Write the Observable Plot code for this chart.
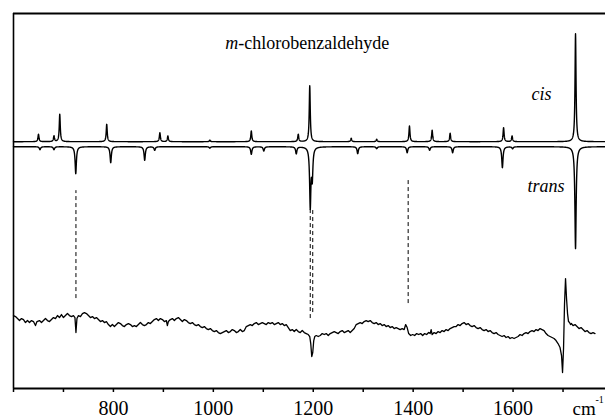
<!DOCTYPE html>
<html><head><meta charset="utf-8">
<script src="https://cdn.jsdelivr.net/npm/d3@7"></script>
<script src="https://cdn.jsdelivr.net/npm/@observablehq/plot@0.6"></script>
<style>html,body{margin:0;padding:0;background:#fff;overflow:hidden;}</style>
</head><body><div id="chart"></div>
<script>
// computed cis spectrum: band positions (cm-1) and intensities
const cisPos = [650, 681, 692.6, 786.6, 893, 909, 993, 1076, 1170, 1193, 1276, 1327, 1392.6, 1438, 1474, 1581, 1598, 1725];
const cisInt = [7.4, 5.7, 27.4, 17.4, 9, 5.7, 1.5, 10.7, 7.4, 56, 3.4, 2.4, 15.7, 11.4, 8.4, 14, 5.7, 108];
// computed trans spectrum (drawn downward)
const transPos = [653, 681, 724.6, 794.6, 862.6, 882.6, 993, 1076, 1101, 1166, 1194, 1198, 1289, 1327, 1388, 1433, 1479, 1578.6, 1599, 1725];
const transInt = [3, 3, 27, 16, 13.6, 3.6, 1.5, 7.6, 4.3, 7, 59, 30, 7, 2, 6, 3.6, 6, 21, 2, 102];
// experimental difference spectrum
const expWavenumber = [600,604,608,612,616,620,624,628,632,636,640,644,647,652,656,660,664,668,672,676,680,684,688,692,696,700,704,708,712,716,720,723,725,727,730,734,738,742,746,750,754,758,762,766,770,774,778,782,786,790,794,798,802,806,810,814,818,822,826,830,834,838,842,846,850,854,858,862,866,870,874,878,882,886,890,894,898,902,906,908,910,914,918,922,926,930,934,938,942,946,950,954,958,962,966,970,974,978,982,986,990,994,998,1002,1006,1010,1014,1018,1022,1026,1030,1034,1038,1042,1046,1050,1054,1058,1062,1066,1070,1074,1078,1082,1086,1090,1094,1098,1102,1106,1110,1114,1118,1122,1126,1130,1134,1138,1142,1146,1150,1154,1158,1162,1166,1170,1174,1178,1182,1186,1190,1193,1195,1197,1199,1201,1203,1206,1210,1214,1218,1222,1226,1230,1234,1238,1242,1246,1250,1254,1258,1262,1266,1270,1274,1278,1282,1286,1290,1294,1298,1302,1306,1310,1314,1318,1322,1326,1330,1334,1338,1342,1346,1350,1354,1358,1362,1366,1370,1374,1378,1382,1385,1388,1391,1395,1399,1403,1407,1411,1415,1419,1423,1427,1431,1434,1436,1438,1442,1446,1450,1454,1458,1462,1466,1470,1474,1478,1482,1486,1490,1494,1498,1502,1506,1510,1514,1518,1522,1526,1530,1534,1538,1542,1546,1550,1554,1558,1562,1566,1570,1574,1578,1582,1586,1590,1594,1598,1602,1606,1610,1614,1618,1622,1626,1630,1634,1638,1642,1646,1650,1654,1658,1662,1666,1670,1674,1678,1682,1686,1690,1694,1697,1699,1701,1703,1705,1707,1709,1711,1713,1715,1717,1720,1724,1728,1732,1736,1740,1744,1748,1752,1756,1760,1764,1768,1772,1776,1780,1785];
const expSignal = [73,72,70,68,70,69,66,68,66,68,67,63,67,68,66,68,70,68,67,69,71,70,73,71,74,71,73,75,73,72,73,71,56,70,73,72,75,76,75,73,71,72,70,71,69,67,68,66,67,64,62,64,62,64,66,65,63,62,64,65,64,62,63,62,64,66,64,63,64,66,65,67,69,70,68,70,69,67,68,63,67,69,70,68,70,71,69,67,69,68,66,65,66,64,63,64,62,61,62,60,59,60,58,57,58,56,55,56,57,58,56,57,59,58,56,57,59,57,58,62,63,64,63,65,66,64,65,66,65,64,66,65,66,64,65,66,64,65,63,64,61,58,59,57,59,57,56,58,56,55,54,52,45,32,36,48,52,53,52,53,55,54,55,53,55,56,57,56,55,57,58,56,57,58,56,58,60,64,65,66,65,67,68,67,68,66,65,66,64,65,63,64,62,63,61,62,60,61,60,59,60,59,64,61,55,53,54,53,55,54,55,53,55,54,56,55,59,54,56,55,57,56,58,57,59,58,60,61,62,62,64,63,65,66,64,65,63,62,63,61,60,61,59,58,59,57,58,56,55,56,54,53,52,53,51,52,50,51,50,51,52,54,53,55,56,55,57,58,57,59,58,60,59,58,55,53,52,51,50,48,45,41,33,16,40,85,110,90,75,67,66,64,65,63,64,62,60,61,59,57,58,56,55,56,55];
// dashed correlation lines
const dashedPos = [725, 1194, 1199, 1390];
const dashedTop = [198, 181, 181, 210];
const dashedBottom = [90, 70, 76, 85];
// axis ticks
const tickValues = [600, 700, 800, 900, 1000, 1100, 1200, 1300, 1400, 1500, 1600, 1700];
const tickLabels = [800, 1000, 1200, 1400, 1600];

const cisBase = 247, transBase = 242, gCis = 1.2, gTrans = 1.5;
const xMin = 600, xMax = 1785, yMax = 375.3;
const grid = d3.range(xMin, xMax + 0.001, 0.25).concat(cisPos, transPos).sort((a, b) => a - b);
const lorentz = (pos, inten, g, v) => d3.sum(pos, (p, i) => inten[i] / (1 + ((v - p) / g) ** 2));
const cisData = grid.map(v => ({v, a: cisBase + lorentz(cisPos, cisInt, gCis, v)}));
const transData = grid.map(v => ({v, a: transBase - lorentz(transPos, transInt, gTrans, v)}));
const expData = expWavenumber.map((v, i) => ({v, a: expSignal[i]}));
const dashed = dashedPos.map((v, i) => ({v, y1: dashedBottom[i], y2: dashedTop[i]}));

const serif = "Liberation Serif";
const plot = Plot.plot({
  width: 605, height: 418,
  marginLeft: 13, marginRight: 0, marginTop: 13, marginBottom: 30,
  x: {domain: [xMin, xMax], axis: null},
  y: {domain: [0, yMax], axis: null},
  marks: [
    Plot.ruleY([0], {stroke: "#000", strokeWidth: 1.8}),
    Plot.ruleY([yMax], {stroke: "#000", strokeWidth: 1.8}),
    Plot.ruleX([xMin], {stroke: "#000", strokeWidth: 1.6}),
    Plot.ruleX(tickValues, {x: d => d, y1: () => 0, y2: () => -4, stroke: "#000", strokeWidth: 1.5}),
    Plot.text(tickLabels, {x: d => d, y: () => -26.5, text: d => String(d), lineAnchor: "bottom", fontSize: 20, fontFamily: serif}),
    Plot.ruleX(dashed, {x: "v", y1: "y1", y2: "y2", strokeDasharray: "4,3", strokeWidth: 1, stroke: "#000"}),
    Plot.line(cisData, {x: "v", y: "a", strokeWidth: 1.4, stroke: "#000"}),
    Plot.line(transData, {x: "v", y: "a", strokeWidth: 1.4, stroke: "#000"}),
    Plot.line(expData, {x: "v", y: "a", strokeWidth: 1.3, stroke: "#000"}),
    Plot.text(["m"], {x: () => 1050, y: () => 340, text: d => d, textAnchor: "end", lineAnchor: "bottom", fontStyle: "italic", fontSize: 18, fontFamily: serif}),
    Plot.text(["-chlorobenzaldehyde"], {x: () => 1050, y: () => 340, text: d => d, textAnchor: "start", lineAnchor: "bottom", fontSize: 18, fontFamily: serif}),
    Plot.text(["cis"], {x: () => 1677, y: () => 289, text: d => d, textAnchor: "end", lineAnchor: "bottom", fontStyle: "italic", fontSize: 18, fontFamily: serif}),
    Plot.text(["trans"], {x: () => 1703, y: () => 197, text: d => d, textAnchor: "end", lineAnchor: "bottom", fontStyle: "italic", fontSize: 18, fontFamily: serif}),
    Plot.text(["cm"], {x: () => 1719, y: () => -26.5, text: d => d, textAnchor: "start", lineAnchor: "bottom", fontSize: 19, fontFamily: serif}),
    Plot.text(["-1"], {x: () => 1765, y: () => -15, text: d => d, textAnchor: "start", lineAnchor: "bottom", fontSize: 10, fontFamily: serif})
  ]
});
document.getElementById("chart").appendChild(plot);
</script>
</body></html>
